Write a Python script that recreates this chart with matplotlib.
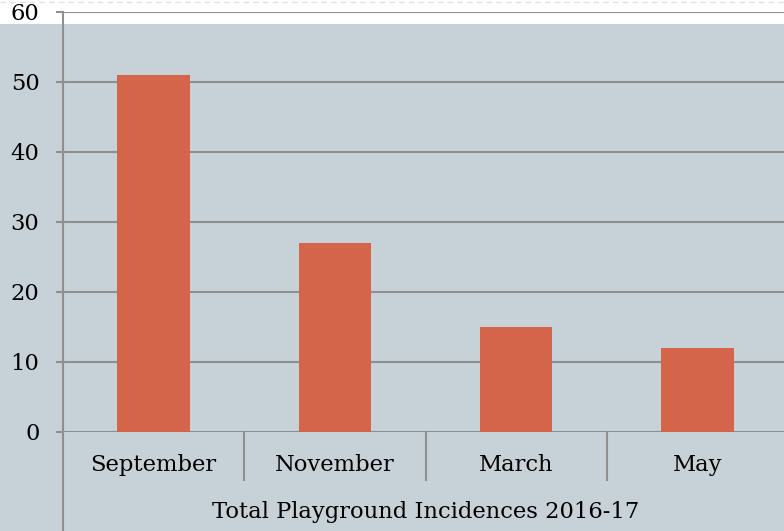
import matplotlib.pyplot as plt
from matplotlib.patches import Rectangle
from matplotlib.lines import Line2D
from matplotlib.transforms import blended_transform_factory

months = ['September', 'November', 'March', 'May']
incidences = [51, 27, 15, 12]
y_ticks = [0, 10, 20, 30, 40, 50, 60]
chart_title = 'Total Playground Incidences 2016-17'

bg = '#C6D2D8'
bar_color = '#D4644A'
line_color = '#8F8F8F'
font = 'DejaVu Serif'
fsize = 16.3

W, H = 784, 531
fig = plt.figure(figsize=(W / 100, H / 100), dpi=100, facecolor=bg)

# white strip at the top of the canvas
fig.patches.append(Rectangle((0, 1 - 24 / H), 1, 24 / H, transform=fig.transFigure,
                             facecolor='white', edgecolor='none', zorder=-1))
fig.add_artist(Line2D([0, 1], [1 - 1.5 / H] * 2, transform=fig.transFigure,
                      color='#DCE3E6', lw=1, ls=(0, (4, 3))))

ax = fig.add_axes([63 / W, (H - 432) / H, (788 - 63) / W, 420 / H])
ax.set_facecolor('none')

x = range(len(months))
ax.bar(x, incidences, width=0.4, color=bar_color, zorder=3)

ax.set_ylim(0, 60)
ax.set_xlim(-0.5, len(months) - 0.5)
ax.set_yticks(y_ticks)
ax.set_yticklabels([str(v) for v in y_ticks], fontfamily=font, fontsize=fsize)
ax.tick_params(axis='y', length=5, width=1.5, color=line_color, pad=12)
ax.set_xticks([])
ax.yaxis.grid(True, color=line_color, lw=1.5, zorder=1)

for side in ['top', 'right', 'bottom']:
    ax.spines[side].set_visible(False)
ax.spines['left'].set_color(line_color)
ax.spines['left'].set_linewidth(1.5)

# y axis line continues down past the category labels
fig.add_artist(Line2D([63 / W] * 2, [0, (H - 432) / H], transform=fig.transFigure,
                      color=line_color, lw=1.5))

trans = blended_transform_factory(ax.transData, ax.transAxes)
for b in [0.5, 1.5, 2.5]:
    ax.plot([b, b], [0, -48 / 420], transform=trans, color=line_color,
            lw=1.5, clip_on=False)

for i, m in enumerate(months):
    ax.text(i, -33 / 420, m, transform=trans, ha='center', va='center',
            fontfamily=font, fontsize=fsize, color='black')

ax.text(1.5, -80 / 420, chart_title, transform=trans, ha='center', va='center',
        fontfamily=font, fontsize=fsize, color='black')

fig.savefig('out.png', dpi=100, facecolor=bg)
